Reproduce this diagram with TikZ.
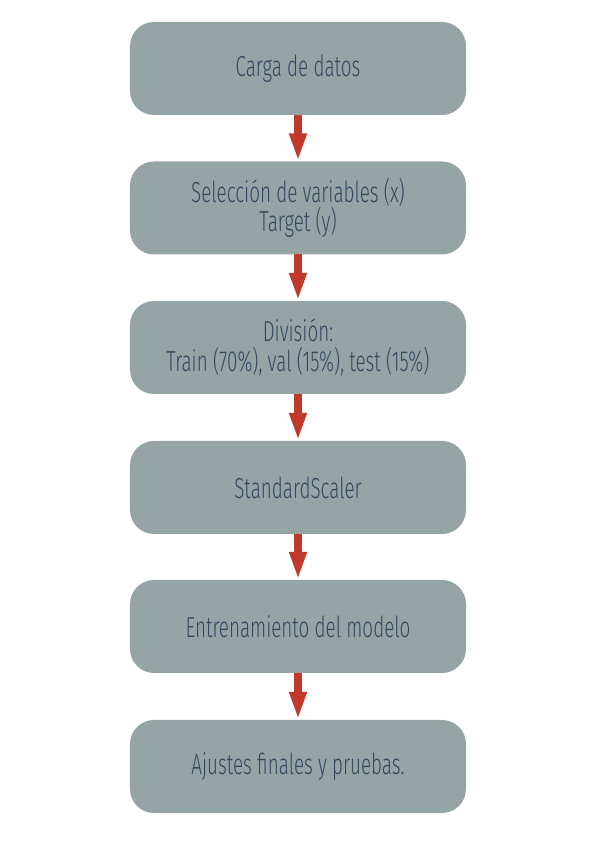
\documentclass[tikz,border=0pt]{standalone}
\usepackage{fontspec}
\setmainfont{Fira Sans Light}[FakeStretch=0.65]
\usetikzlibrary{arrows.meta}
\definecolor{boxfill}{HTML}{95A5A6}
\definecolor{boxtext}{HTML}{34495E}
\definecolor{arrowred}{HTML}{C0392B}
\tikzset{
  stepbox/.style={rectangle, rounded corners=24bp, fill=boxfill, text=boxtext,
    minimum width=336bp, minimum height=93bp, inner sep=0pt, align=center,
    font=\fontsize{29bp}{29.5bp}\selectfont},
  flow/.style={draw=arrowred, line width=8bp, -{Triangle[width=16bp,length=28bp]}, shorten <=-0.5bp}
}
\begin{document}
\begin{tikzpicture}[x=1bp,y=1bp]
\useasboundingbox (0,0) rectangle (596,842);
\node[stepbox] (b1) at (298,{842-68.5}) {Carga de datos};
\node[stepbox] (b2) at (298,{842-208}) {Selección de variables (x)\\Target (y)};
\node[stepbox] (b3) at (298,{842-347.5}) {División:\\Train (70\%), val (15\%), test (15\%)};
\node[stepbox] (b4) at (298,{842-487.5}) {StandardScaler};
\node[stepbox] (b5) at (298,{842-626.5}) {Entrenamiento del modelo};
\node[stepbox] (b6) at (298,{842-766.5}) {Ajustes finales y pruebas.};
\draw[flow] (b1.south) -- (b2.north);
\draw[flow] (b2.south) -- (b3.north);
\draw[flow] (b3.south) -- (b4.north);
\draw[flow] (b4.south) -- (b5.north);
\draw[flow] (b5.south) -- (b6.north);
\end{tikzpicture}
\end{document}
